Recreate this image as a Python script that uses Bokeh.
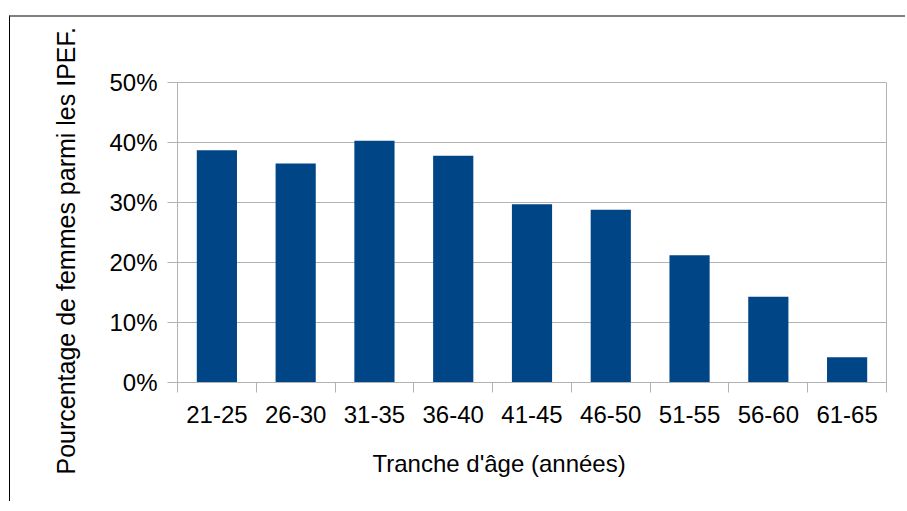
from bokeh.plotting import figure
from bokeh.models import Range1d, FixedTicker, NumeralTickFormatter, ColumnDataSource, Title
from bokeh.embed import file_html
from bokeh.resources import INLINE

# ---- data ----
categories = ["21-25", "26-30", "31-35", "36-40", "41-45", "46-50", "51-55", "56-60", "61-65"]
values = [0.387, 0.365, 0.403, 0.378, 0.297, 0.288, 0.212, 0.143, 0.042]
y_ticks = [0.0, 0.1, 0.2, 0.3, 0.4, 0.5]
x_title = "Tranche d'âge (années)"
y_title = "Pourcentage de femmes parmi les IPEF."

n = len(categories)
centers = [i + 0.5 for i in range(n)]
bounds = [float(i) for i in range(n + 1)]

src = ColumnDataSource(dict(x=centers, top=values, cat=categories))

FONT = "Liberation Sans"
GRID = "#b3b3b3"

p = figure(width=896, height=486, output_backend="svg", toolbar_location=None,
           x_range=Range1d(0, n), y_range=Range1d(0, 0.5),
           min_border_left=167, min_border_right=20, min_border_top=65, min_border_bottom=121)
p.styles = {"border-top": "2px solid #808080", "border-left": "1px solid #000000",
            "margin-top": "15px", "margin-left": "9px"}

p.vbar(x="x", top="top", width=0.51, bottom=0, source=src,
       fill_color="#004586", line_color=None)

p.outline_line_color = GRID
p.outline_line_width = 1
p.background_fill_color = "white"
p.border_fill_color = "white"

p.xgrid.visible = False
p.ygrid.grid_line_color = GRID
p.ygrid.grid_line_width = 1

# x axis: labels at centres, tick marks at category boundaries
xa = p.xaxis[0]
xa.ticker = FixedTicker(ticks=centers, minor_ticks=bounds)
xa.major_label_overrides = {c: lab for c, lab in zip(centers, categories)}
xa.major_tick_line_color = None
xa.major_tick_out = 10
xa.major_tick_in = 0
xa.minor_tick_line_color = GRID
xa.minor_tick_out = 10
xa.minor_tick_in = 0
xa.axis_line_color = GRID
xa.major_label_text_font = FONT
xa.major_label_text_font_size = "24px"
xa.major_label_text_color = "#000000"
xa.major_label_standoff = 13

ya = p.yaxis[0]
ya.ticker = FixedTicker(ticks=y_ticks, minor_ticks=[])
ya.formatter = NumeralTickFormatter(format="0%")
ya.major_tick_line_color = GRID
ya.major_tick_out = 10
ya.major_tick_in = 0
ya.axis_line_color = GRID
ya.major_label_text_font = FONT
ya.major_label_text_font_size = "24px"
ya.major_label_text_color = "#000000"
ya.major_label_standoff = 10

# axis titles as side titles, placed like the original (not centred on the frame)
ytitle = Title(text=y_title, align="left", offset=-92, standoff=53,
               text_font=FONT, text_font_size="25px", text_font_style="normal",
               text_color="#000000")
p.add_layout(ytitle, "left")

xtitle = Title(text=x_title, align="left", offset=195, standoff=44,
               text_font=FONT, text_font_size="24px", text_font_style="normal",
               text_color="#000000")
p.add_layout(xtitle, "below")

open("out.html", "w").write(file_html(p, INLINE))
